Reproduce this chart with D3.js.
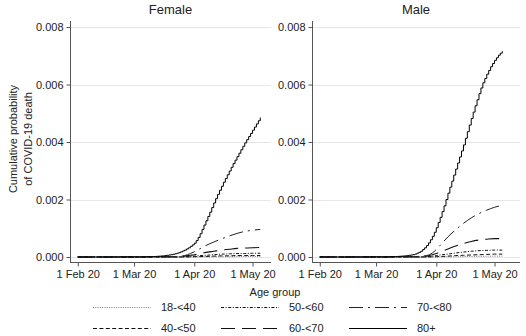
<!DOCTYPE html>
<html>
<head>
<meta charset="utf-8">
<script src="https://cdn.jsdelivr.net/npm/d3@7"></script>
<style>
  html, body { margin: 0; padding: 0; background: #fff; }
  svg { display: block; }
  text { font-family: "Liberation Sans", Arial, sans-serif; fill: #222; }
</style>
</head>
<body>
<svg id="chart" width="526" height="336"></svg>
<script>
// Panels (sex) and age groups
const panels = ["Female", "Male"];
const ageGroups = ["18-<40", "40-<50", "50-<60", "60-<70", "70-<80", "80+"];

// Y axis ticks (cumulative probability)
const yTicks = [0, 0.002, 0.004, 0.006, 0.008];
// X axis ticks
const xTickDates = [new Date(2020, 1, 1), new Date(2020, 2, 1), new Date(2020, 3, 1), new Date(2020, 4, 1)];
const xTickLabels = ["1 Feb 20", "1 Mar 20", "1 Apr 20", "1 May 20"];

// Day offsets from 1 Feb 2020 for the smaller age groups
const sparseDays = [0, 50, 55, 58, 60, 63, 66, 70, 74, 78, 82, 86, 90, 94];

const female18to40 = [0, 0, 0, 0, 0, 0.000003, 0.000005, 0.000008, 0.00001, 0.000012, 0.000015, 0.000017, 0.00002, 0.00002];
const female40to50 = [0, 0, 0, 0.000005, 0.00001, 0.000015, 0.00002, 0.00003, 0.00004, 0.00004, 0.00005, 0.00005, 0.00005, 0.00005];
const female50to60 = [0, 0, 0.00001, 0.00002, 0.00003, 0.00005, 0.00006, 0.00008, 0.0001, 0.00011, 0.00012, 0.00012, 0.00013, 0.00013];
const female60to70 = [0, 0.00001, 0.00003, 0.00006, 0.00008, 0.00012, 0.00016, 0.0002, 0.00024, 0.00027, 0.0003, 0.00031, 0.00032, 0.00033];
const female70to80 = [0, 0.00001, 0.00005, 0.00012, 0.00018, 0.00029, 0.0004, 0.00052, 0.00063, 0.00073, 0.00082, 0.00089, 0.00093, 0.00096];

const male18to40 = [0, 0, 0, 0, 0, 0.000005, 0.000008, 0.00001, 0.000015, 0.00002, 0.000023, 0.000026, 0.00003, 0.00003];
const male40to50 = [0, 0, 0, 0.000005, 0.00001, 0.00002, 0.00003, 0.00005, 0.00006, 0.00007, 0.00008, 0.00009, 0.0001, 0.0001];
const male50to60 = [0, 0, 0.00001, 0.00003, 0.00005, 0.00008, 0.0001, 0.00014, 0.00017, 0.0002, 0.00022, 0.00023, 0.00024, 0.00024];
const male60to70 = [0, 0.00001, 0.00003, 0.00008, 0.00012, 0.0002, 0.00028, 0.00038, 0.00047, 0.00054, 0.00059, 0.00062, 0.00064, 0.00064];
const male70to80 = [0, 0.00002, 0.00005, 0.00014, 0.00026, 0.00048, 0.0007, 0.00095, 0.00117, 0.00136, 0.00151, 0.00163, 0.00173, 0.0018];

// Daily values (day 34 .. day 94 after 1 Feb 2020) for the 80+ group; zero before
const dailyStart = 34;
const female80plus = [
  0, 0.000005, 0.000008, 0.000011, 0.000014, 0.000017, 0.00002, 0.000025, 0.00003, 0.000035,
  0.00004, 0.00005, 0.00006, 0.00007, 0.00008, 0.000095, 0.00011, 0.00013, 0.00015, 0.00018,
  0.00021, 0.00024, 0.00028, 0.00032, 0.00037, 0.00042, 0.00048, 0.00057, 0.00068, 0.00081,
  0.00096, 0.00111, 0.00126, 0.00141, 0.00156, 0.00172, 0.00188, 0.00203, 0.00218, 0.00232,
  0.00246, 0.0026, 0.00273, 0.00286, 0.00299, 0.00312, 0.00325, 0.00337, 0.00349, 0.00361,
  0.00373, 0.00385, 0.00397, 0.00408, 0.00419, 0.0043, 0.00441, 0.00452, 0.00463, 0.00474,
  0.00485
];
const male80plus = [
  0, 0.000005, 0.000008, 0.000011, 0.000014, 0.000017, 0.00002, 0.000025, 0.00003, 0.000035,
  0.00004, 0.00005, 0.00006, 0.00007, 0.00008, 0.0001, 0.00013, 0.00016, 0.0002, 0.00026,
  0.00032, 0.0004, 0.00049, 0.0006, 0.00072, 0.00086, 0.00102, 0.0012, 0.00138, 0.00158,
  0.00178, 0.002, 0.00222, 0.00243, 0.00264, 0.00285, 0.00306, 0.00327, 0.00348, 0.00369,
  0.0039, 0.00413, 0.00436, 0.00459, 0.00482, 0.00504, 0.00526, 0.00547, 0.00568, 0.00588,
  0.00606, 0.00621, 0.00636, 0.00649, 0.00662, 0.00673, 0.00684, 0.00693, 0.00702, 0.00709,
  0.00716
];

const seriesByPanel = {
  Female: [female18to40, female40to50, female50to60, female60to70, female70to80, female80plus],
  Male: [male18to40, male40to50, male50to60, male60to70, male70to80, male80plus]
};

// Line pattern for each age group
const lineStyles = [
  { dash: "1,1.3", width: 0.8, color: "#555" },
  { dash: "4,2.4", width: 1, color: "#111" },
  { dash: "3,1.6,1,1.6", width: 1, color: "#111" },
  { dash: "14,7", width: 1.1, color: "#111" },
  { dash: "14,5,2,5", width: 1, color: "#222" },
  { dash: null, width: 1, color: "#000" }
];

const dayToDate = d => new Date(2020, 1, 1 + d);

function toPoints(values, idx) {
  if (idx === 5) {
    const pts = [{ date: dayToDate(0), v: 0 }];
    values.forEach((v, i) => pts.push({ date: dayToDate(dailyStart + i), v }));
    return pts;
  }
  return values.map((v, i) => ({ date: dayToDate(sparseDays[i]), v }));
}

const svg = d3.select("#chart");

const panelLayout = [
  { name: "Female", x0: 70, x1: 270, gridEnd: 271 },
  { name: "Male", x0: 312, x1: 512, gridEnd: 520 }
];
const yTop = 21, yBottom = 262;

const y = d3.scaleLinear().domain([-0.000174, 0.00821]).range([yBottom, yTop]);

panelLayout.forEach(p => {
  const x = d3.scaleTime()
    .domain([new Date(2020, 0, 28), new Date(2020, 4, 10)])
    .range([p.x0, p.x1]);

  const g = svg.append("g");

  // horizontal gridlines
  g.selectAll("line.grid").data(yTicks).enter().append("line")
    .attr("x1", p.x0).attr("x2", p.gridEnd)
    .attr("y1", d => Math.round(y(d)) + 0.5).attr("y2", d => Math.round(y(d)) + 0.5)
    .attr("stroke", "#e6e6e6").attr("stroke-width", 1);

  // title
  g.append("text")
    .attr("x", (p.x0 + p.gridEnd) / 2).attr("y", 14)
    .attr("text-anchor", "middle").attr("font-size", 13)
    .text(p.name);

  // y axis
  const yAxis = g.append("g")
    .attr("transform", `translate(${p.x0 + 0.5},0)`)
    .call(d3.axisLeft(y).tickValues(yTicks).tickFormat(d3.format(".3f")).tickSize(4).tickPadding(3));
  yAxis.select(".domain").attr("d", `M0,${yTop}V${yBottom}`).attr("stroke", "#555");
  yAxis.selectAll(".tick line").attr("stroke", "#555");
  yAxis.selectAll(".tick text").attr("font-size", 11).attr("font-family", '"Liberation Sans", Arial, sans-serif').attr("fill", "#222");

  // x axis
  const xAxis = g.append("g")
    .attr("transform", `translate(0,${yBottom + 0.5})`)
    .call(d3.axisBottom(x).tickValues(xTickDates).tickFormat((d, i) => xTickLabels[i]).tickSize(4).tickPadding(4));
  xAxis.select(".domain").attr("d", `M${p.x0},0H${p.gridEnd}`).attr("stroke", "#555");
  xAxis.selectAll(".tick line").attr("stroke", "#555");
  xAxis.selectAll(".tick text").attr("font-size", 11).attr("font-family", '"Liberation Sans", Arial, sans-serif').attr("fill", "#222");

  // series lines
  const smooth = d3.line().x(d => x(d.date)).y(d => y(d.v)).curve(d3.curveMonotoneX);
  const step = d3.line().x(d => x(d.date)).y(d => y(d.v)).curve(d3.curveStepAfter);

  seriesByPanel[p.name].forEach((vals, i) => {
    const st = lineStyles[i];
    g.append("path")
      .attr("d", (i === 5 ? step : smooth)(toPoints(vals, i)))
      .attr("fill", "none")
      .attr("stroke", st.color)
      .attr("stroke-width", st.width)
      .attr("stroke-dasharray", st.dash);
  });
});

// y axis title
const yTitle = svg.append("text")
  .attr("transform", "translate(17,139) rotate(-90)")
  .attr("text-anchor", "middle").attr("font-size", 11);
yTitle.append("tspan").attr("x", 0).attr("dy", 0).text("Cumulative probability");
yTitle.append("tspan").attr("x", 0).attr("dy", 15).text("of COVID-19 death");

// legend
svg.append("text")
  .attr("x", 275).attr("y", 296)
  .attr("text-anchor", "middle").attr("font-size", 11)
  .text("Age group");

const legendCols = [93, 221, 349];
const legendRows = [307, 328];
const sampleWidth = 58;

ageGroups.forEach((name, i) => {
  const col = Math.floor(i / 2), row = i % 2;
  const lx = legendCols[col], ly = legendRows[row];
  const st = lineStyles[i];
  svg.append("line")
    .attr("x1", lx).attr("x2", lx + sampleWidth)
    .attr("y1", ly + 0.5).attr("y2", ly + 0.5)
    .attr("stroke", st.color).attr("stroke-width", st.width)
    .attr("stroke-dasharray", st.dash);
  svg.append("text")
    .attr("x", lx + sampleWidth + 10).attr("y", ly + 4)
    .attr("font-size", 11)
    .text(name);
});
</script>
</body>
</html>
